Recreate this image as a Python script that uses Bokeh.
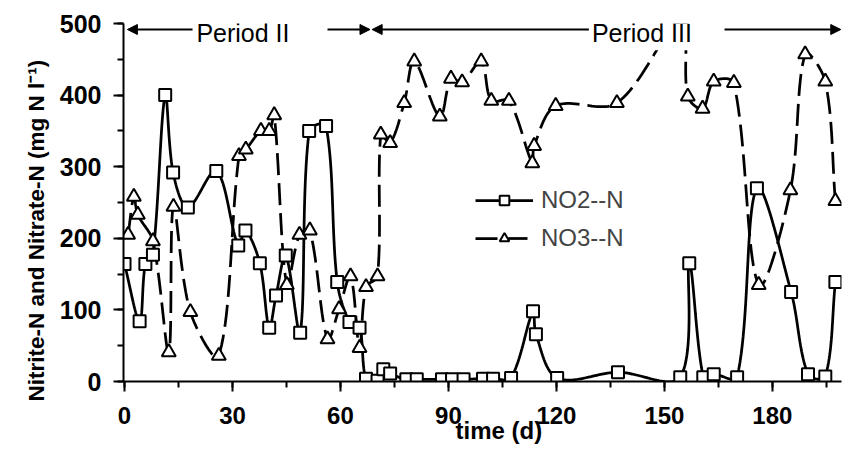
import numpy as np
from bokeh.plotting import figure
from bokeh.models import (Range1d, SingleIntervalTicker, Label, Arrow, NormalHead,
                          Legend, LegendItem, Title)
from bokeh.embed import file_html
from bokeh.resources import INLINE

# ---- data ----
no2_day = [0, 4.2, 5.8, 7.9, 11.3, 13.5, 17.6, 25.5, 31.6, 33.6, 37.6, 40.2, 42.1, 44.8, 48.8,
           51.3, 56.0, 59.1, 62.5, 65.3, 67.1, 70.3, 71.9, 73.8, 78.3, 81.2, 88.2, 91.0, 94.2,
           99.6, 102.4, 107.4, 113.5, 114.3, 120.2, 137.1, 154.4, 156.9, 160.8, 163.7, 170.2,
           175.7, 185.2, 189.9, 194.7, 197.5]
no2_val = [164, 84, 164, 177, 400, 292, 243, 294, 190, 211, 165, 75, 120, 176, 68,
           350, 357, 139, 83, 75, 4, 1, 17, 11, 3, 3, 3, 3, 3,
           4, 4, 5, 98, 66, 5, 13, 6, 165, 6, 10, 6,
           270, 125, 10, 7, 139]

no3_day = [1, 2.6, 3.7, 7.9, 12.3, 13.6, 18.3, 26.2, 31.8, 33.7, 37.9, 40.2, 41.6, 45.1, 48.6,
           51.5, 56.4, 59.6, 62.8, 65.3, 67.1, 70.3, 71.2, 73.8, 77.7, 80.5, 87.6, 90.7, 93.8,
           99.1, 101.9, 106.8, 113.3, 113.8, 119.8, 136.8, 154.6, 156.5, 160.6, 163.7, 169.3,
           176.2, 185.0, 189.1, 194.7, 197.5]
no3_val = [205, 258, 233, 196, 41, 244, 97, 36, 315, 324, 350, 350, 372, 135, 205,
           211, 59, 101, 147, 47, 132, 147, 345, 333, 389, 447, 370, 423, 418,
           447, 392, 392, 305, 329, 385, 389, 505, 398, 381, 419, 417,
           135, 267, 457, 419, 252]

x_label = "time (d)"
y_label = "Nitrite-N and Nitrate-N  (mg N l\u207b\u00b9)"
series_names = ["NO2--N", "NO3--N"]
period_names = ["Period II", "Period III"]

X_START, X_END = -0.28, 199.2
Y_START, Y_END = 0, 500
PX_PER_DAY, PX_PER_UNIT = 3.6, 0.7154


def smooth(xs, ys, n=24):
    """Excel-like smoothed line: cubic Bezier through the points with
    chord-length weighted tangents (measured in screen pixels)."""
    P = np.column_stack([np.asarray(xs, float), np.asarray(ys, float)])
    S = P * np.array([PX_PER_DAY, PX_PER_UNIT])
    N = len(P)
    out = [P[0]]
    t = np.linspace(0, 1, n + 1)[1:, None]

    def d(a, b):
        return max(np.hypot(*(S[a] - S[b])), 1e-6)

    for i in range(N - 1):
        i0 = max(i - 1, 0)
        i3 = min(i + 2, N - 1)
        p1, p2 = P[i], P[i + 1]
        d12 = d(i, i + 1)
        d01 = d(i0, i) if i0 != i else 0.0
        d23 = d(i + 1, i3) if i3 != i + 1 else 0.0
        c1 = p1 + (P[i + 1] - P[i0]) * d12 / (d01 + d12) / 3.0
        c2 = p2 - (P[i3] - P[i]) * d12 / (d12 + d23) / 3.0
        B = (1 - t) ** 3 * p1 + 3 * (1 - t) ** 2 * t * c1 + 3 * (1 - t) * t ** 2 * c2 + t ** 3 * p2
        out.extend(B)
    out = np.array(out)
    return out[:, 0], out[:, 1]


FONT = "Liberation Sans"

p = figure(width=843, height=448, output_backend="svg", toolbar_location=None,
           x_range=Range1d(X_START, X_END), y_range=Range1d(Y_START, Y_END),
           min_border_left=123, min_border_right=2, min_border_top=23, min_border_bottom=67)
p.outline_line_color = None
p.xgrid.visible = False
p.ygrid.visible = False
p.background_fill_color = "white"
p.border_fill_color = "white"

p.xaxis.ticker = SingleIntervalTicker(interval=30, num_minor_ticks=2)
p.yaxis.ticker = SingleIntervalTicker(interval=100, num_minor_ticks=2)
for ax in (p.xaxis[0], p.yaxis[0]):
    ax.axis_line_width = 2
    ax.axis_line_color = "black"
    ax.major_tick_line_width = 2
    ax.minor_tick_line_width = 2
    ax.major_tick_line_color = "black"
    ax.minor_tick_line_color = "black"
    ax.major_tick_out = 10
    ax.major_tick_in = 0
    ax.minor_tick_out = 6
    ax.minor_tick_in = 0
    ax.major_label_text_font = FONT
    ax.major_label_text_font_style = "bold"
    ax.major_label_text_color = "black"
p.xaxis.major_label_text_font_size = "24px"
p.yaxis.major_label_text_font_size = "25px"
p.xaxis.major_label_standoff = 15
p.yaxis.major_label_standoff = 12

# curves
sx2, sy2 = smooth(no2_day, no2_val)
sx3, sy3 = smooth(no3_day, no3_val)
l3 = p.line(sx3, sy3, line_color="black", line_width=2.75, line_dash="22 8")
l2 = p.line(sx2, sy2, line_color="black", line_width=2.75)
m3 = p.scatter(no3_day, no3_val, marker="triangle", size=14, fill_color="white",
               line_color="black", line_width=2)
m2 = p.scatter(no2_day, no2_val, marker="square", size=12, fill_color="white",
               line_color="black", line_width=2)

legend = Legend(items=[LegendItem(label=series_names[0], renderers=[l2, m2]),
                       LegendItem(label=series_names[1], renderers=[l3, m3])],
                location=(352, 129), background_fill_alpha=0, border_line_color=None,
                label_text_font=FONT, label_text_font_size="24px",
                glyph_width=58, glyph_height=24, label_height=24, label_standoff=8,
                spacing=10, padding=0, margin=0)
p.add_layout(legend)

# period annotations
ya = 491.6
yl = 486.5


def head():
    return NormalHead(size=10, fill_color="black", line_color="black", line_width=1)


p.add_layout(Arrow(end=head(), x_start=18.9, y_start=ya, x_end=0.8, y_end=ya,
                   line_width=2, line_color="black"))
p.add_layout(Arrow(end=head(), x_start=56.4, y_start=ya, x_end=68.2, y_end=ya,
                   line_width=2, line_color="black"))
p.add_layout(Arrow(end=head(), x_start=129.2, y_start=ya, x_end=68.8, y_end=ya,
                   line_width=2, line_color="black"))
p.add_layout(Arrow(end=head(), x_start=166.7, y_start=ya, x_end=199.0, y_end=ya,
                   line_width=2, line_color="black"))
p.add_layout(Label(x=32.9, y=yl, text=period_names[0], text_font=FONT, text_font_size="25px",
                   text_align="center", text_baseline="middle", text_color="black"))
p.add_layout(Label(x=143.75, y=yl, text=period_names[1], text_font=FONT, text_font_size="25px",
                   text_align="center", text_baseline="middle", text_color="black",
                   background_fill_color="white", padding=3))

# axis titles (placed as titles so they can sit off-centre like the original)
p.add_layout(Title(text=y_label, align="left", offset=-20, standoff=16, text_font=FONT,
                   text_font_size="22.5px", text_font_style="bold", text_color="black"), "left")
# thin spacer on the far left so the y title sits where the original has it
p.add_layout(Title(text=" ", text_font_size="1px", standoff=3), "left")
p.add_layout(Title(text=x_label, align="left", offset=332, standoff=-23, text_font=FONT,
                   text_font_size="24px", text_font_style="bold", text_color="black"), "below")

open("out.html", "w").write(file_html(p, INLINE))
